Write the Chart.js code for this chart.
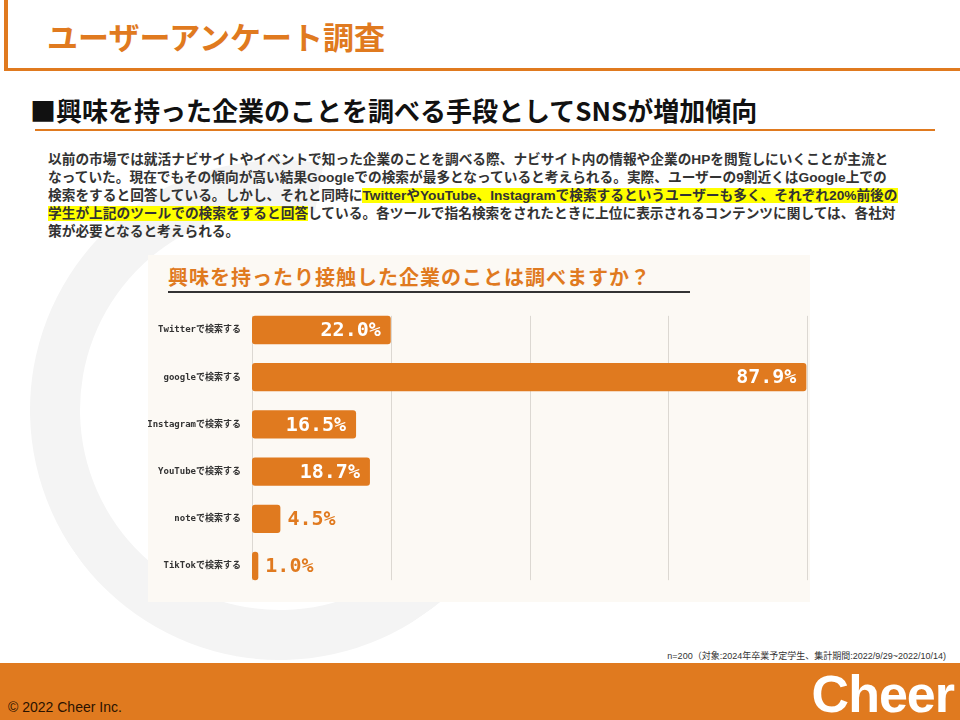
<!DOCTYPE html>
<html lang="ja">
<head>
<meta charset="utf-8">
<title>ユーザーアンケート調査</title>
<script src="https://cdn.jsdelivr.net/npm/chart.js@4/dist/chart.umd.min.js"></script>
<style>
  html, body { margin: 0; padding: 0; background: #ffffff; }
  body { width: 960px; height: 720px; position: relative; overflow: hidden;
         font-family: "Liberation Sans", "Noto Sans CJK JP", sans-serif; }
  .abs { position: absolute; }
  #mark { left: 30px; top: 160px; width: 500px; height: 500px; border-radius: 50%;
          border: 50px solid #F4F4F4; border-right-color: transparent;
          transform: rotate(-35deg); box-sizing: border-box; }
  #sideBar { left: 4px; top: 0; width: 4px; height: 70px; background: #E07A1F; }
  #topLine { left: 4px; top: 68px; width: 956px; height: 3px; background: #E07A1F; }
  #pageTitle { left: 47px; top: 16px; font: bold 31px "Noto Sans CJK JP", sans-serif;
               color: #E07A1F; line-height: 40px; white-space: nowrap; }
  #subTitle { left: 30px; top: 93px; font: bold 26px "Noto Sans CJK JP", sans-serif;
              color: #111; line-height: 34px; white-space: nowrap; }
  #subLine { left: 35px; top: 129px; width: 900px; height: 2px; background: #E07A1F; }
  #lead { left: 48px; top: 151px; font-weight: bold; font-size: 13.7px; line-height: 18px;
          color: #333; white-space: nowrap; }
  #lead mark { background: #FFFF00; color: #333; }
  #panel { left: 148px; top: 255px; width: 662px; height: 347px; background: #FCF9F4; }
  #panelTitle { left: 168px; top: 263px; font: bold 20px "Noto Sans CJK JP", sans-serif;
                letter-spacing: 1px; color: #E07A1F; line-height: 28px; white-space: nowrap; }
  #panelLine { left: 168px; top: 291px; width: 522px; height: 2px; background: #333; }
  #chartBox { left: 148px; top: 290px; width: 662px; height: 316px; }
  #note { right: 14px; top: 649px; font-size: 9px; color: #333; white-space: nowrap; }
  #footer { left: 0; top: 663px; width: 960px; height: 57px; background: #E07A1F; }
  #copy { left: 8px; top: 699px; font-size: 14px; color: #2a1200; white-space: nowrap; }
  #logo { right: 6px; top: 664px; font: bold 52px "Liberation Sans", sans-serif;
          color: #ffffff; line-height: 60px; letter-spacing: -1px; }
</style>
</head>
<body>
<div id="mark" class="abs"></div>
<div id="sideBar" class="abs"></div>
<div id="topLine" class="abs"></div>
<div id="pageTitle" class="abs">ユーザーアンケート調査</div>
<div id="subTitle" class="abs">■興味を持った企業のことを調べる手段としてSNSが増加傾向</div>
<div id="subLine" class="abs"></div>
<div id="lead" class="abs">以前の市場では就活ナビサイトやイベントで知った企業のことを調べる際、ナビサイト内の情報や企業のHPを閲覧しにいくことが主流と<br>なっていた。現在でもその傾向が高い結果Googleでの検索が最多となっていると考えられる。実際、ユーザーの9割近くはGoogle上での<br>検索をすると回答している。しかし、それと同時に<mark>TwitterやYouTube、Instagramで検索するというユーザーも多く、それぞれ20%前後の</mark><br><mark>学生が上記のツールでの検索をすると回答</mark>している。各ツールで指名検索をされたときに上位に表示されるコンテンツに関しては、各社対<br>策が必要となると考えられる。</div>

<div id="panel" class="abs"></div>
<div id="panelTitle" class="abs">興味を持ったり接触した企業のことは調べますか？</div>
<div id="panelLine" class="abs"></div>
<div id="chartBox" class="abs"><canvas id="searchChart"></canvas></div>

<div id="note" class="abs">n=200（対象:2024年卒業予定学生、集計期間:2022/9/29~2022/10/14)</div>
<div id="footer" class="abs"></div>
<div id="copy" class="abs">© 2022 Cheer Inc.</div>
<div id="logo" class="abs">Cheer</div>

<script>
// ============================================
// DATA
// ============================================

const CATEGORIES = [
  'Twitterで検索する',
  'googleで検索する',
  'Instagramで検索する',
  'YouTubeで検索する',
  'noteで検索する',
  'TikTokで検索する',
];
const VALUES = [22.0, 87.9, 16.5, 18.7, 4.5, 1.0];
const AXIS_MAX = 88;
const AXIS_STEP = 22;

const ORANGE = '#E07A1F';

// ============================================
// PLUGINS
// ============================================

// Vertical grid lines that only span from the first bar to the last bar
const shortGrid = {
  id: 'shortGrid',
  beforeDatasetsDraw(chart) {
    const meta = chart.getDatasetMeta(0);
    const first = meta.data[0];
    const last = meta.data[meta.data.length - 1];
    const top = first.y - first.height / 2;
    const bottom = last.y + last.height / 2;
    const xScale = chart.scales.x;
    const ctx = chart.ctx;
    ctx.save();
    ctx.strokeStyle = '#DCD8D2';
    ctx.lineWidth = 1;
    xScale.ticks.forEach((tick) => {
      const x = Math.round(xScale.getPixelForValue(tick.value)) + 0.5;
      ctx.beginPath();
      ctx.moveTo(x, top);
      ctx.lineTo(x, bottom);
      ctx.stroke();
    });
    ctx.restore();
  },
};

// Percent labels: white inside long bars, orange outside short ones
const valueLabels = {
  id: 'valueLabels',
  afterDatasetsDraw(chart) {
    const meta = chart.getDatasetMeta(0);
    const ctx = chart.ctx;
    ctx.save();
    ctx.font = 'bold 20px "DejaVu Sans Mono", monospace';
    ctx.textBaseline = 'middle';
    meta.data.forEach((bar, i) => {
      const value = VALUES[i];
      const text = value.toFixed(1) + '%';
      if (value >= 10) {
        ctx.fillStyle = '#ffffff';
        ctx.textAlign = 'right';
        ctx.fillText(text, bar.x - 10, bar.y + 1);
      } else {
        ctx.fillStyle = ORANGE;
        ctx.textAlign = 'left';
        ctx.fillText(text, bar.x + 7, bar.y + 1);
      }
    });
    ctx.restore();
  },
};

// ============================================
// CHART
// ============================================

function initChart() {
  const ctx = document.getElementById('searchChart').getContext('2d');

  new Chart(ctx, {
    type: 'bar',
    data: {
      labels: CATEGORIES,
      datasets: [
        {
          data: VALUES,
          backgroundColor: ORANGE,
          borderWidth: 0,
          borderRadius: 3,
          borderSkipped: false,
          categoryPercentage: 1,
          barPercentage: 0.6,
        },
      ],
    },
    options: {
      indexAxis: 'y',
      responsive: true,
      maintainAspectRatio: false,
      animation: false,
      layout: {
        padding: { left: 0, right: 3, top: 8, bottom: 6 },
      },
      plugins: {
        legend: { display: false },
        tooltip: { enabled: false },
      },
      scales: {
        x: {
          min: 0,
          max: AXIS_MAX,
          ticks: { stepSize: AXIS_STEP, display: false },
          grid: { display: false },
          border: { display: false },
          afterFit: function (scale) {
            scale.height = 0;
          },
        },
        y: {
          grid: { display: false, drawTicks: false },
          border: { display: false },
          ticks: {
            padding: 11,
            color: '#333',
            font: { family: '"DejaVu Sans Mono", "Noto Sans CJK JP", monospace', size: 9, weight: 'bold' },
          },
          afterFit: function (scale) {
            scale.width = 104;
          },
        },
      },
    },
    plugins: [shortGrid, valueLabels],
  });
}

window.addEventListener('load', initChart);
</script>
</body>
</html>
